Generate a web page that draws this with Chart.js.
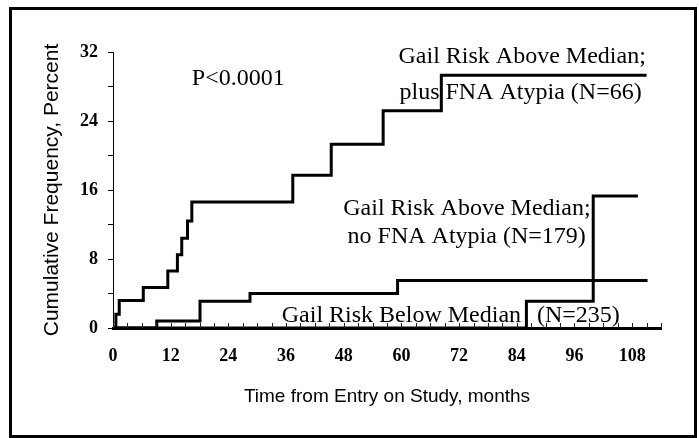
<!DOCTYPE html>
<html>
<head>
<meta charset="utf-8">
<script src="https://cdn.jsdelivr.net/npm/chart.js@4.4.1/dist/chart.umd.min.js"></script>
<style>
  html, body { margin: 0; padding: 0; background: #fff; }
  #wrap { position: relative; width: 699px; height: 438px; overflow: hidden; }
  #frame { position: absolute; left: 9px; top: 7px; width: 682px; height: 425px; border: 3px solid #000; pointer-events: none; }
  canvas { position: absolute; left: 0; top: 0; }
</style>
</head>
<body>
<div id="wrap">
  <canvas id="chart" width="699" height="438"></canvas>
  <div id="frame"></div>
</div>
<script>
// months since entry, cumulative frequency (%) at each step
const monthsAtypia = [0, 0.6, 1.3, 6.3, 11.4, 13.4, 14.3, 15.5, 16.4, 37.4, 45.4, 56.2, 68.3, 111];
const pctAtypia    = [0, 1.6, 3.2, 4.7, 6.6, 8.5, 10.4, 12.4, 14.6, 17.7, 21.3, 25.2, 29.3, 29.3];

const monthsNoAtypia = [0, 9.1, 18.1, 28.5, 59.2, 111.2];
const pctNoAtypia    = [0, 0.8, 3.1, 4.0, 5.5, 5.5];

const monthsBelow = [0, 86, 99.9, 109.2];
const pctBelow    = [0, 3.1, 15.3, 15.3];

const xMax = 114;
const yMax = 32;

// text labels, anchored in data units (month, percent) at left baseline
const notes = [
  { text: "P<0.0001", x: 16.4, y: 28.2 },
  { text: "Gail Risk Above Median;", x: 59.4, y: 30.7 },
  { text: "plus FNA Atypia (N=66)", x: 59.6, y: 26.6 },
  { text: "Gail Risk Above Median;", x: 47.9, y: 13.1 },
  { text: "no FNA Atypia (N=179)", x: 48.8, y: 9.9 },
  { text: "Gail Risk Below Median", x: 35.1, y: 0.73 },
  { text: "(N=235)", x: 88.2, y: 0.73 },
];

const serif = "'Liberation Serif', 'Times New Roman', serif";
const sans = "'Liberation Sans', Arial, sans-serif";

const toPoints = (xs, ys) => xs.map((m, i) => ({ x: m, y: ys[i] }));

const lineStyle = {
  borderColor: "#000",
  borderWidth: 3,
  pointRadius: 0,
  stepped: "before",
  fill: false,
};

// x tick marks point up into the plot
const innerTicks = {
  id: "innerTicks",
  afterDraw(chart) {
    const xs = chart.scales.x;
    const y0 = chart.scales.y.getPixelForValue(0);
    const ctx = chart.ctx;
    ctx.save();
    ctx.strokeStyle = "#222";
    ctx.lineWidth = 1;
    xs.ticks.forEach(t => {
      const px = Math.round(xs.getPixelForValue(t.value)) + 0.5;
      ctx.beginPath();
      ctx.moveTo(px, y0);
      ctx.lineTo(px, y0 - 5);
      ctx.stroke();
    });
    ctx.restore();
  },
};

const noteText = {
  id: "noteText",
  beforeDatasetsDraw(chart) {
    const { ctx, scales: { x, y } } = chart;
    ctx.save();
    ctx.fillStyle = "#000";
    ctx.font = "24px " + serif;
    ctx.textAlign = "left";
    ctx.textBaseline = "alphabetic";
    notes.forEach(n => ctx.fillText(n.text, x.getPixelForValue(n.x), y.getPixelForValue(n.y)));
    ctx.restore();
  },
};

new Chart(document.getElementById("chart"), {
  type: "line",
  data: {
    datasets: [
      { label: "Gail Risk Above Median; plus FNA Atypia (N=66)", data: toPoints(monthsAtypia, pctAtypia), ...lineStyle },
      { label: "Gail Risk Above Median; no FNA Atypia (N=179)", data: toPoints(monthsNoAtypia, pctNoAtypia), ...lineStyle },
      { label: "Gail Risk Below Median (N=235)", data: toPoints(monthsBelow, pctBelow), ...lineStyle },
    ],
  },
  options: {
    responsive: false,
    animation: false,
    devicePixelRatio: 1,
    layout: { padding: { left: 0, top: 52, right: 38, bottom: 30 } },
    plugins: { legend: { display: false }, tooltip: { enabled: false } },
    scales: {
      x: {
        type: "linear",
        min: 0,
        max: xMax,
        afterFit: (s) => { s.height = 80; },
        border: { display: true, color: "#000", width: 3 },
        grid: { display: false },
        ticks: {
          stepSize: 3,
          autoSkip: false,
          maxRotation: 0,
          padding: 10,
          color: "#000",
          font: { family: serif, size: 18, weight: "bold" },
          callback: (v) => (v % 12 === 0 ? v : ""),
        },
        title: {
          display: true,
          text: "Time from Entry on Study, months",
          color: "#000",
          font: { family: sans, size: 19 },
          padding: { top: 0, bottom: 0 },
        },
      },
      y: {
        min: 0,
        max: yMax,
        afterFit: (s) => { s.width = 113; },
        border: { display: true, color: "#000", width: 1 },
        grid: { drawOnChartArea: false, drawTicks: true, tickLength: 5, color: "#000", lineWidth: 1 },
        ticks: {
          stepSize: 4,
          padding: 10,
          color: "#000",
          font: { family: serif, size: 18, weight: "bold" },
          callback: (v) => (v % 8 === 0 ? v : ""),
        },
        title: {
          display: true,
          text: "Cumulative Frequency, Percent",
          color: "#000",
          font: { family: sans, size: 21 },
          padding: { top: 40, bottom: 0 },
        },
      },
    },
  },
  plugins: [noteText, innerTicks],
});
</script>
</body>
</html>
